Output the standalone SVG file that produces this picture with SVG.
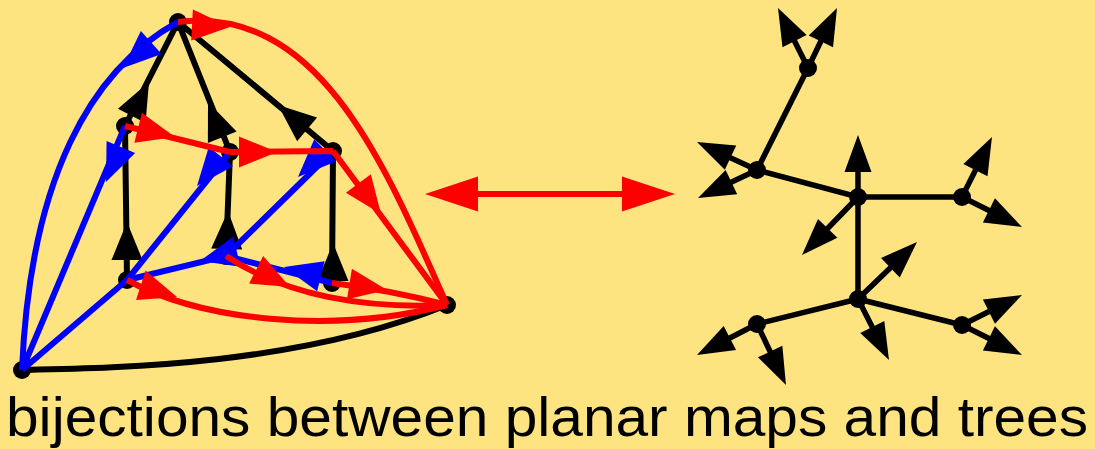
<svg xmlns="http://www.w3.org/2000/svg" xmlns:xlink="http://www.w3.org/1999/xlink" width="1095" height="449" viewBox="0 0 1095 449">
<defs>
<style>
.bk{stroke:#000;fill:none;stroke-width:6}
.bl{stroke:#0000ff;fill:none;stroke-width:6}
.rd{stroke:#ff0000;fill:none;stroke-width:6}
.tr{stroke:#000;fill:none;stroke-width:5.5}
.dot{fill:#000}
.fk{fill:#000}
.fb{fill:#0000ff}
.fr{fill:#ff0000}
.lbl{font-family:"Liberation Sans",Arial,sans-serif;font-size:56px;fill:#000}
</style>
<path id="ah" d="M0,0 L-38,-15.5 L-38,15.5 Z"/>
<path id="aht" d="M0,0 L-37,-13.5 L-37,13.5 Z"/>
</defs>
<rect width="1095" height="449" fill="#fee480"/>
<g id="nodes-left">
<g id="nT"><circle class="dot" cx="178" cy="22" r="9"/></g>
<g id="nA"><circle class="dot" cx="125" cy="126" r="9"/></g>
<g id="nB"><circle class="dot" cx="230" cy="152" r="9"/></g>
<g id="nC"><circle class="dot" cx="333" cy="151" r="9"/></g>
<g id="nD"><circle class="dot" cx="127" cy="280" r="9"/></g>
<g id="nE"><circle class="dot" cx="226" cy="256" r="9"/></g>
<g id="nF"><circle class="dot" cx="332" cy="283" r="9"/></g>
<g id="nR"><circle class="dot" cx="447" cy="305" r="9"/></g>
<g id="nL"><circle class="dot" cx="22" cy="370" r="9"/></g>
</g>
<g id="connectors-left">
<path class="bk" d="M22,370 C120,368 300,365 447,305"/>
<path class="bk" d="M125,126 L178,22 M230,152 L178,22 M333,151 L178,22 M127,280 L125,126 M226,256 L230,152 M332,283 L333,151"/>
<use href="#ah" class="fk" transform="translate(149,82) rotate(-63)"/>
<use href="#ah" class="fk" transform="translate(208,102) rotate(-112)"/>
<use href="#ah" class="fk" transform="translate(278,105) rotate(-140)"/>
<use href="#ah" class="fk" transform="translate(127,222) rotate(-90)"/>
<use href="#ah" class="fk" transform="translate(228,211) rotate(-88)"/>
<use href="#ah" class="fk" transform="translate(333,243) rotate(-90)"/>
<path class="bl" d="M178,22 C90,70 30,180 22,370"/>
<path class="bl" d="M125,126 L22,370 M127,280 L22,370 M230,152 L127,280 M333,151 L226,256 M226,256 L127,280 M332,283 L226,256"/>
<use href="#ah" class="fb" transform="translate(123,68) rotate(138)"/>
<use href="#ah" class="fb" transform="translate(106,182) rotate(113)"/>
<use href="#ah" class="fb" transform="translate(197,186) rotate(129)"/>
<use href="#ah" class="fb" transform="translate(298,177) rotate(135.5)"/>
<use href="#ah" class="fb" transform="translate(200,261) rotate(166)"/>
<use href="#ah" class="fb" transform="translate(284,267) rotate(194)"/>
<path class="rd" d="M178,22 C320,5 385,165 447,305"/>
<path class="rd" d="M125,126 L230,152 M230,152 L333,151 M333,151 L447,305"/>
<path class="rd" d="M127,280 C200,320 330,335 447,305"/>
<path class="rd" d="M226,256 C270,285 340,310 447,305"/>
<path class="rd" d="M332,283 Q390,290 447,305"/>
<use href="#ah" class="fr" transform="translate(230,27) rotate(3)"/>
<use href="#ah" class="fr" transform="translate(175,137) rotate(14)"/>
<use href="#ah" class="fr" transform="translate(277,152) rotate(0)"/>
<use href="#ah" class="fr" transform="translate(381,214) rotate(53.5)"/>
<use href="#ah" class="fr" transform="translate(177,297) rotate(18)"/>
<use href="#ah" class="fr" transform="translate(290,287) rotate(27)"/>
<use href="#ah" class="fr" transform="translate(387,290) rotate(9)"/>
</g>
<g id="bijection-arrow">
<line x1="470" y1="194" x2="630" y2="194" stroke="#ff0000" stroke-width="6"/>
<path class="fr" d="M425,194 L478,176.5 L478,211.5 Z"/>
<path class="fr" d="M675,194 L622,176.5 L622,211.5 Z"/>
</g>
<g id="tree-edges">
<path class="tr" d="M808,68 L757,170 L858,197 L962,197 M858,197 L858,299 L757,324 M858,299 L962,325"/>
<path class="tr" d="M808,68 L789,30 M808,68 L826,30.5 M757,170 L720,153 M757,170 L720.6,187.3 M858,197 L858,160 M858,197 L819.4,237 M962,197 L980.8,159.4 M962,197 L999.6,215.8 M858,299 L899,259.4 M858,299 L877.7,337.7 M757,324 L719.2,343.5 M757,324 L775.3,362.4 M962,325 L999.6,306.2 M962,325 L999.6,343.8"/>
<use href="#aht" class="fk" transform="translate(778,8) rotate(-116.6)"/>
<use href="#aht" class="fk" transform="translate(837,8) rotate(-64.2)"/>
<use href="#aht" class="fk" transform="translate(697,142) rotate(-155)"/>
<use href="#aht" class="fk" transform="translate(698,198) rotate(154.6)"/>
<use href="#aht" class="fk" transform="translate(858,135) rotate(-90)"/>
<use href="#aht" class="fk" transform="translate(802,255) rotate(134)"/>
<use href="#aht" class="fk" transform="translate(992,137) rotate(-63.4)"/>
<use href="#aht" class="fk" transform="translate(1022,227) rotate(26.6)"/>
<use href="#aht" class="fk" transform="translate(917,242) rotate(-44)"/>
<use href="#aht" class="fk" transform="translate(889,360) rotate(63.1)"/>
<use href="#aht" class="fk" transform="translate(697,355) rotate(152.7)"/>
<use href="#aht" class="fk" transform="translate(786,385) rotate(64.6)"/>
<use href="#aht" class="fk" transform="translate(1022,295) rotate(-26.6)"/>
<use href="#aht" class="fk" transform="translate(1022,355) rotate(26.6)"/>
</g>
<g id="tree-nodes">
<g id="t1"><circle class="dot" cx="808" cy="68" r="9"/></g>
<g id="t2"><circle class="dot" cx="757" cy="170" r="9"/></g>
<g id="t3"><circle class="dot" cx="858" cy="197" r="9"/></g>
<g id="t4"><circle class="dot" cx="962" cy="197" r="9"/></g>
<g id="t5"><circle class="dot" cx="858" cy="299" r="9"/></g>
<g id="t6"><circle class="dot" cx="757" cy="324" r="9"/></g>
<g id="t7"><circle class="dot" cx="962" cy="325" r="9"/></g>
</g>
<text class="lbl" x="6" y="436" textLength="1082" lengthAdjust="spacingAndGlyphs">bijections between planar maps and trees</text>
</svg>
